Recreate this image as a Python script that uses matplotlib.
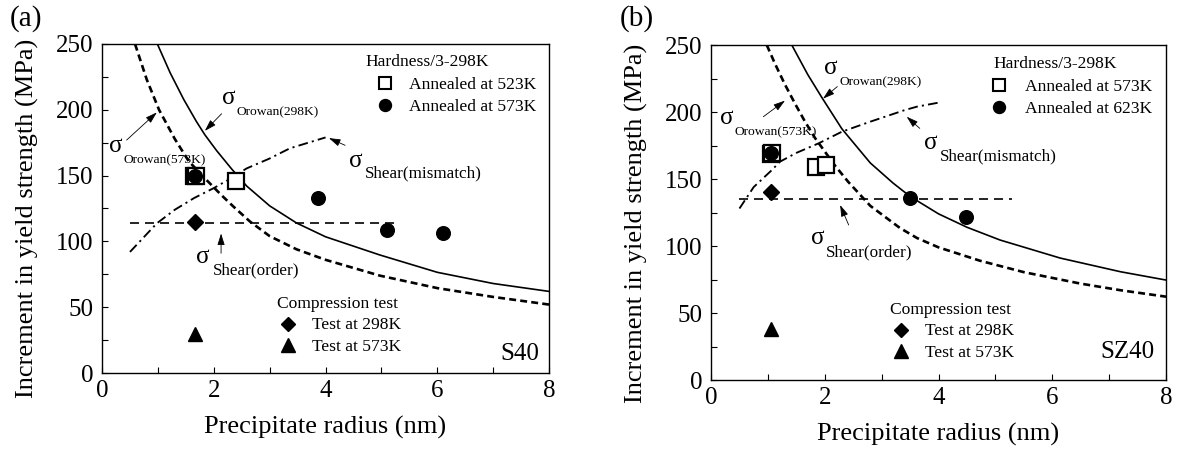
import matplotlib
matplotlib.use("Agg")
import matplotlib.pyplot as plt

# ---- panel (a): S40 ----
a_orowan298_r = [0.99, 1.22, 1.46, 1.69, 1.84, 2.05, 2.32, 2.59, 3.0, 3.48, 4.0, 4.97, 6.0, 7.0, 8.0]
a_orowan298_s = [250, 228, 208, 191, 181, 169, 155, 142, 127, 114, 103.5, 89.7, 76.5, 68, 62]
a_orowan573_r = [0.59, 0.8, 1.02, 1.3, 1.55, 1.85, 2.14, 2.35, 2.65, 3.0, 3.48, 4.0, 4.97, 6.0, 7.0, 8.0]
a_orowan573_s = [250, 223, 200, 178, 161, 147.5, 135, 126.5, 115, 104, 94, 86, 74, 64.5, 57.8, 52]
a_mismatch_r = [0.5, 0.98, 1.3, 1.65, 2.0, 2.25, 2.59, 3.0, 3.36, 4.0]
a_mismatch_s = [92, 113.7, 124, 133, 140.5, 146.6, 155.5, 163, 170.7, 179]
a_order_r = [0.5, 5.3]
a_order_s = [114.2, 114.2]
a_sq_r = [1.64, 1.68, 2.39]
a_sq_s = [150, 150, 146]
a_circ_r = [1.67, 3.86, 5.1, 6.1]
a_circ_s = [150, 133, 108.7, 106]
a_diam_r = [1.67]
a_diam_s = [114.5]
a_tri_r = [1.67]
a_tri_s = [29.5]

# ---- panel (b): SZ40 ----
b_orowan298_r = [1.42, 1.7, 1.946, 2.3, 2.8, 3.2, 3.5, 4.0, 4.5, 5.08, 6.14, 7.2, 8.0]
b_orowan298_s = [250, 228, 211, 187.5, 162, 147, 137, 124, 114, 104.5, 91, 80.8, 74.6]
b_orowan573_r = [0.98, 1.125, 1.30, 1.48, 1.65, 1.83, 2.18, 2.41, 2.8, 3.32, 3.62, 4.0, 4.73, 5.5, 6.49, 7.2, 8.0]
b_orowan573_s = [250, 236, 220.5, 206, 193, 180.5, 160, 148, 130, 113.5, 106, 99, 89, 80.5, 72, 67, 62.2]
b_mismatch_r = [0.5, 0.75, 1.07, 1.21, 1.5, 1.89, 2.3, 2.8, 3.41, 3.62, 4.0]
b_mismatch_s = [128, 144, 156.7, 162.9, 169.5, 176.6, 185.3, 192.8, 201.5, 204, 207]
b_order_r = [0.5, 5.3]
b_order_s = [134.8, 134.8]
b_sq_r = [1.05, 1.08, 1.85, 2.03]
b_sq_s = [169, 169.5, 158.7, 160.4]
b_circ_r = [1.06, 3.5, 4.48]
b_circ_s = [169.5, 136, 121.4]
b_diam_r = [1.06]
b_diam_s = [140.5]
b_tri_r = [1.06]
b_tri_s = [38.4]

panel_letters = ["(a)", "(b)"]
sample_names = ["S40", "SZ40"]
hardness_labels = [["Annealed at 523K", "Annealed at 573K"],
                   ["Annealed at 573K", "Annealed at 623K"]]
test_labels = ["Test at 298K", "Test at 573K"]

plt.rcParams["font.family"] = ["Liberation Serif", "DejaVu Serif"]
plt.rcParams["lines.scale_dashes"] = False

fig = plt.figure(figsize=(11.77, 4.53), dpi=100)
ax_a = fig.add_axes([0.0867, 0.1766, 0.3798, 0.7263])
ax_b = fig.add_axes([0.6041, 0.1611, 0.3866, 0.7395])


def sigma(ax, x, y, sub, sub_dx, sub_dy, sub_size):
    ax.text(x, y, "σ", fontsize=18, va="baseline", ha="left")
    ax.text(x + sub_dx, y + sub_dy, sub, fontsize=sub_size, va="baseline", ha="left")


def arrow(ax, tail, tip):
    ax.annotate("", xy=tip, xytext=tail,
                arrowprops=dict(arrowstyle="-|>,head_length=0.7,head_width=0.22",
                                lw=0.6, color="k", shrinkA=0, shrinkB=0))


def base_axes(ax, ylab_xy):
    ax.set_xlim(0, 8)
    ax.set_ylim(0, 250)
    ax.set_xticks([0, 2, 4, 6, 8])
    ax.set_xticks([1, 3, 5, 7], minor=True)
    ax.set_yticks(range(0, 251, 50))
    ax.set_yticks(range(25, 250, 50), minor=True)
    ax.tick_params(which="both", direction="in", length=4, width=0.8,
                   top=False, right=False, labelsize=18)
    ax.tick_params(axis="y", pad=6)
    ax.tick_params(axis="x", pad=5)
    for sp in ax.spines.values():
        sp.set_linewidth(1.0)
    ax.set_xlabel("Precipitate radius (nm)", fontsize=19, labelpad=10)
    ax.set_ylabel("Increment in yield strength (MPa)", fontsize=19)
    ax.yaxis.set_label_coords(*ylab_xy)


def draw(ax, o298, o573, mis, order, sq, circ, diam, tri):
    ax.plot(*o298, color="k", lw=1.2)
    ax.plot(*o573, color="k", lw=1.9, linestyle=(0, (5, 3)))
    ax.plot(*mis, color="k", lw=1.35, linestyle=(0, (7, 3, 1.5, 3)))
    ax.plot(*order, color="k", lw=1.2, linestyle=(0, (6.5, 4.3)))
    ax.plot(*sq, linestyle="none", marker="s", ms=12, mfc="white", mec="k", mew=1.6)
    ax.plot(*circ, linestyle="none", marker="o", ms=9.8, color="k")
    ax.plot(*diam, linestyle="none", marker="D", ms=8, color="k")
    ax.plot(*tri, linestyle="none", marker="^", ms=10, color="k")


draw(ax_a, (a_orowan298_r, a_orowan298_s), (a_orowan573_r, a_orowan573_s),
     (a_mismatch_r, a_mismatch_s), (a_order_r, a_order_s),
     (a_sq_r, a_sq_s), (a_circ_r, a_circ_s), (a_diam_r, a_diam_s), (a_tri_r, a_tri_s))
draw(ax_b, (b_orowan298_r, b_orowan298_s), (b_orowan573_r, b_orowan573_s),
     (b_mismatch_r, b_mismatch_s), (b_order_r, b_order_s),
     (b_sq_r, b_sq_s), (b_circ_r, b_circ_s), (b_diam_r, b_diam_s), (b_tri_r, b_tri_s))

# annotations panel (a)
sigma(ax_a, 2.14, 204.5, "Orowan(298K)", 0.26, -8.8, 9.7)
arrow(ax_a, (2.14, 197), (1.84, 184))
sigma(ax_a, 0.13, 168, "Orowan(573K)", 0.25, -9, 9.7)
arrow(ax_a, (0.44, 177), (0.98, 198))
sigma(ax_a, 4.42, 156.5, "Shear(mismatch)", 0.28, -7.5, 12.3)
arrow(ax_a, (4.35, 173), (4.06, 178.5))
sigma(ax_a, 1.69, 83.3, "Shear(order)", 0.29, -8.3, 12.3)
arrow(ax_a, (2.13, 91), (2.13, 106))

# annotations panel (b)
sigma(ax_b, 1.99, 228.2, "Orowan(298K)", 0.26, -8, 9.7)
arrow(ax_b, (2.22, 219), (1.97, 210))
sigma(ax_b, 0.15, 191, "Orowan(573K)", 0.26, -8.7, 9.7)
arrow(ax_b, (0.92, 196.5), (1.3, 208.5))
sigma(ax_b, 3.74, 172.4, "Shear(mismatch)", 0.29, -8.7, 12.3)
arrow(ax_b, (3.67, 187.8), (3.44, 196.5))
sigma(ax_b, 1.75, 101.2, "Shear(order)", 0.27, -8.7, 12.3)
arrow(ax_b, (2.42, 115.7), (2.27, 130.6))

# hand-made legends
for ax, (hx, mx, tx), (cx, dx, ux), labels, name, (nx, ny) in [
        (ax_a, (4.72, 5.07, 5.5), (3.13, 3.33, 3.76), hardness_labels[0], sample_names[0], (7.82, 10.1)),
        (ax_b, (4.96, 5.07, 5.52), (3.14, 3.34, 3.76), hardness_labels[1], sample_names[1], (7.79, 16.6))]:
    ax.text(hx, 233, "Hardness/3-298K", fontsize=12.6, va="baseline")
    ax.plot([mx], [220.5], linestyle="none", marker="s", ms=8.5, mfc="white", mec="k", mew=1.5)
    ax.plot([mx], [203.5], linestyle="none", marker="o", ms=8.6, color="k")
    ax.text(tx, 216, labels[0], fontsize=12.6, va="baseline")
    ax.text(tx, 199.3, labels[1], fontsize=12.6, va="baseline")
    ax.text(cx, 49.4, "Compression test", fontsize=12.6, va="baseline")
    ax.plot([dx], [37.5], linestyle="none", marker="D", ms=7.5, color="k")
    ax.plot([dx], [21.5], linestyle="none", marker="^", ms=9.5, color="k")
    ax.text(ux, 33.4, test_labels[0], fontsize=12.6, va="baseline")
    ax.text(ux, 17, test_labels[1], fontsize=12.6, va="baseline")
    ax.text(nx, ny, name, fontsize=18, va="baseline", ha="right")

base_axes(ax_a, (-0.142, 0.471))
base_axes(ax_b, (-0.138, 0.467))

fig.text(26 / 1177, 1 - 19 / 453, panel_letters[0], fontsize=21, ha="center", va="center")
fig.text(637 / 1177, 1 - 19 / 453, panel_letters[1], fontsize=21, ha="center", va="center")

fig.savefig("out.png", dpi=100)
